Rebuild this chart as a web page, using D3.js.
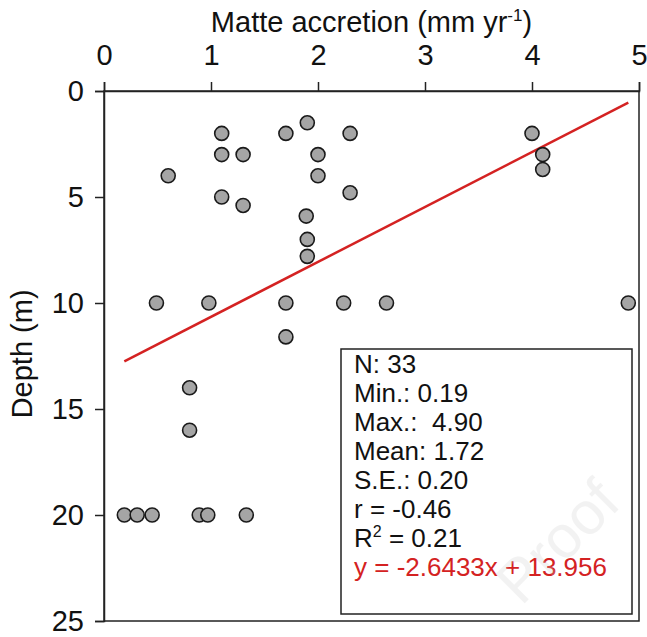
<!DOCTYPE html>
<meta charset="utf-8">
<script src="https://d3js.org/d3.v7.min.js"></script>
<style>
  body { margin: 0; background: #fff; }
  text { font-family: Arial, "Liberation Sans", sans-serif; }
</style>
<div id="chart"></div>
<script>
// accretion (mm/yr) and depth (m) of each sample
const accretion = [1.10, 1.70, 1.90, 2.30, 1.10, 1.30, 2.00, 0.60, 2.00, 2.30, 1.10,
                   1.30, 1.89, 1.90, 1.90, 0.49, 0.98, 1.70, 2.24, 2.64, 1.70,
                   4.00, 4.10, 4.10, 4.90,
                   0.80, 0.80, 0.19, 0.31, 0.45, 0.89, 0.97, 1.33];
const depth = [2.0, 2.0, 1.5, 2.0, 3.0, 3.0, 3.0, 4.0, 4.0, 4.8, 5.0,
               5.4, 5.9, 7.0, 7.8, 10.0, 10.0, 10.0, 10.0, 10.0, 11.6,
               2.0, 3.0, 3.7, 10.0,
               14.0, 16.0, 20.0, 20.0, 20.0, 20.0, 20.0, 20.0];

// fitted line end points as drawn
const fitX = [0.19, 4.90];
const fitY = [12.75, 0.55];

const xTicks = [0, 1, 2, 3, 4, 5];
const yTicks = [0, 5, 10, 15, 20, 25];

const statLines = ["N: 33", "Min.: 0.19", "Max.:  4.90", "Mean: 1.72", "S.E.: 0.20", "r = -0.46"];
const equation = "y = -2.6433x + 13.956";

const W = 647, H = 637;
const margin = {top: 91, right: 8, bottom: 16, left: 104};
const width = W - margin.left - margin.right,
      height = H - margin.top - margin.bottom;

const root = d3.select("#chart").append("svg")
    .attr("width", W)
    .attr("height", H);

const svg = root.append("g")
    .attr("transform", `translate(${margin.left},${margin.top})`);

const x = d3.scaleLinear().domain([0, 5]).range([0, width]);
const y = d3.scaleLinear().domain([0, 25]).range([0, height]);

// frame
svg.append("rect")
    .attr("width", width)
    .attr("height", height)
    .attr("fill", "none")
    .attr("stroke", "#222")
    .attr("stroke-width", 1.5);

const xAxis = svg.append("g")
    .call(d3.axisTop(x).tickValues(xTicks).tickFormat(d3.format("d")).tickSize(9).tickPadding(17));
const yAxis = svg.append("g")
    .call(d3.axisLeft(y).tickValues(yTicks).tickFormat(d3.format("d")).tickSize(9).tickPadding(11));

[xAxis, yAxis].forEach(a => {
    a.select(".domain").attr("stroke", "#222").attr("stroke-width", 1.5);
    a.selectAll(".tick line").attr("stroke", "#222").attr("stroke-width", 1.5);
    a.selectAll(".tick text").style("font-size", "29px").attr("fill", "#111")
        .style("font-family", "Arial, 'Liberation Sans', sans-serif");
});

// axis titles
const xt = root.append("text")
    .attr("x", margin.left + width / 2)
    .attr("y", 32)
    .attr("text-anchor", "middle")
    .style("font-size", "29px")
    .attr("fill", "#111");
xt.append("tspan").text("Matte accretion (mm yr");
xt.append("tspan").attr("dy", -11).style("font-size", "17px").text("-1");
xt.append("tspan").attr("dy", 11).text(")");

root.append("text")
    .attr("transform", `translate(32,${margin.top + y(12.4)}) rotate(-90)`)
    .attr("text-anchor", "middle")
    .style("font-size", "29px")
    .attr("fill", "#111")
    .text("Depth (m)");

// regression line
svg.append("line")
    .attr("x1", x(fitX[0])).attr("y1", y(fitY[0]))
    .attr("x2", x(fitX[1])).attr("y2", y(fitY[1]))
    .attr("stroke", "#d42222")
    .attr("stroke-width", 2.5);

// points
svg.append("g")
    .selectAll("circle")
    .data(accretion.map((a, i) => ({a: a, d: depth[i]})))
    .join("circle")
    .attr("cx", d => x(d.a))
    .attr("cy", d => y(d.d))
    .attr("r", 7)
    .attr("fill", "#a5a5a5")
    .attr("stroke", "#1a1a1a")
    .attr("stroke-width", 1.6);

// stats box
const box = root.append("g").attr("transform", "translate(341,349)");
box.append("rect")
    .attr("width", 291)
    .attr("height", 265)
    .attr("fill", "#fff")
    .attr("stroke", "#222")
    .attr("stroke-width", 1.5);

const lh = 29;
box.selectAll("text.stat")
    .data(statLines)
    .join("text")
    .attr("class", "stat")
    .attr("x", 13)
    .attr("y", (d, i) => 24 + i * lh)
    .style("font-size", "26px")
    .style("white-space", "pre")
    .attr("fill", "#111")
    .text(d => d);

const r2 = box.append("text")
    .attr("x", 13)
    .attr("y", 24 + 6 * lh)
    .style("font-size", "26px")
    .attr("fill", "#111");
r2.append("tspan").text("R");
r2.append("tspan").attr("dy", -10).style("font-size", "16px").text("2");
r2.append("tspan").attr("dy", 10).text(" = 0.21");

box.append("text")
    .attr("x", 13)
    .attr("y", 24 + 7 * lh)
    .style("font-size", "26px")
    .attr("fill", "#d42222")
    .text(equation);

// faint watermark over everything
root.append("text")
    .attr("transform", "translate(572,556) rotate(-45)")
    .attr("text-anchor", "middle")
    .style("font-size", "60px")
    .style("fill", "#c8c8c8")
    .style("opacity", 0.22)
    .text("Proof");
</script>
